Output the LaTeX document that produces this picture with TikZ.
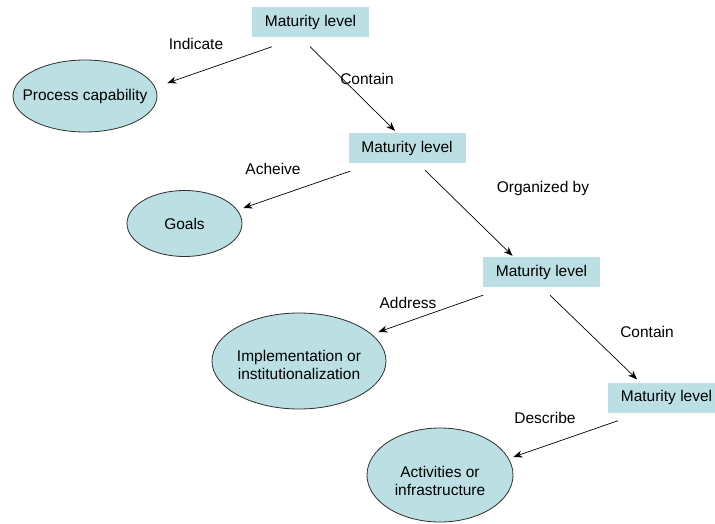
\documentclass[tikz,border=0pt]{standalone}
\usepackage{fontspec}
\setmainfont{Liberation Sans}
\usetikzlibrary{arrows.meta,shapes.geometric,calc}
\definecolor{levelfill}{HTML}{BBDFE3}
\definecolor{rimgray}{HTML}{2E2E2E}
\begin{document}
\begin{tikzpicture}[x=1pt,y=-1pt,
  every node/.style={font=\fontsize{15.5}{18}\selectfont},
  levelbox/.style={rectangle,fill=levelfill,draw=none,minimum width=117pt,minimum height=30pt,inner sep=0pt},
  bubble/.style={ellipse,fill=levelfill,draw=rimgray,line width=0.8pt,inner sep=0pt},
  bubbletext/.style={align=center,inner sep=0pt},
  arr/.style={draw=black,line width=0.7pt,-{Stealth[length=9pt,width=7pt]}},
  lbl/.style={inner sep=0pt}]
\useasboundingbox (0,0) rectangle (715,524);

% maturity level boxes
\node[levelbox] (b1) at (310.5,22.5) {Maturity level};
\node[levelbox] (b2) at (407,148) {Maturity level};
\node[levelbox] (b3) at (541.5,272) {Maturity level};
\node[levelbox] (b4) at (666.5,397.5) {Maturity level};

% outcome ellipses
\node[bubble,minimum width=144pt,minimum height=72pt] (e1) at (85,96) {};
\node[bubbletext] at (e1) {Process capability};
\node[bubble,minimum width=115pt,minimum height=66pt] (e2) at (184.5,223.5) {};
\node[bubbletext] at (e2) {Goals};
\node[bubble,minimum width=174pt,minimum height=96pt] (e3) at (299,361) {};
\node[bubbletext] at ($(e3)+(0,4)$) {Implementation or\\institutionalization};
\node[bubble,minimum width=146pt,minimum height=94pt] (e4) at (440,475) {};
\node[bubbletext] at ($(e4)+(0,6)$) {Activities or\\infrastructure};

% connectors
\draw[arr] ($(b1.south)+(-38.5,9)$) -- ($(e1.east)+(10,-13)$);
\draw[arr] ($(b1.south)+(-0.5,9)$) -- ($(b2.north)+(-12,-2)$);
\draw[arr] ($(b2.south)+(-57,8)$) -- ($(e2.east)+(1,-15.5)$);
\draw[arr] ($(b2.south)+(18,7)$) -- ($(b3.north)+(-29,-1)$);
\draw[arr] ($(b3.south)+(-58.5,8)$) -- ($(e3.east)+(-8,-29)$);
\draw[arr] ($(b3.south)+(8.5,8)$) -- ($(b4.north)+(-29.5,-3)$);
\draw[arr] ($(b4.south)+(-48.5,8)$) -- ($(e4.east)+(0,-18)$);

% connector labels
\node[lbl] (l1) at (196,44) {Indicate};
\node[lbl] (l2) at (367,79) {Contain};
\node[lbl] (l3) at (273,169) {Acheive};
\node[lbl] (l4) at (543,188) {Organized by};
\node[lbl] (l5) at (408,303) {Address};
\node[lbl] (l6) at (647,332) {Contain};
\node[lbl] (l7) at (545,418) {Describe};
\end{tikzpicture}
\end{document}
